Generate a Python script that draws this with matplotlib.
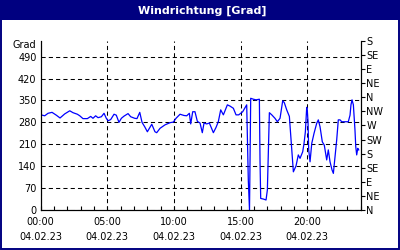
import matplotlib
matplotlib.use("Agg")
import matplotlib.pyplot as plt
from matplotlib.patches import Rectangle

# ---- data ----
hours = [0.02, 0.30, 0.55, 0.85, 1.17, 1.45, 1.80, 2.18, 2.42, 2.75, 2.93, 3.17, 3.50, 3.75,
         3.92, 4.12, 4.30, 4.55, 4.75, 4.92, 5.05, 5.25, 5.50, 5.67, 5.87, 6.05, 6.25, 6.55,
         6.75, 7.05, 7.22, 7.43, 7.60, 7.80, 8.00, 8.33, 8.57, 8.70, 8.95, 9.32, 9.70, 9.95,
         10.15, 10.45, 10.75, 10.95, 11.15, 11.25, 11.40, 11.57, 11.75, 11.95, 12.12, 12.25,
         12.45, 12.65, 12.95, 13.15, 13.32, 13.50, 13.70, 14.00, 14.20, 14.45, 14.65, 14.85,
         15.15, 15.45, 15.57, 15.66, 15.75, 15.95, 16.15, 16.40, 16.45, 16.50, 16.70, 16.90,
         17.00, 17.15, 17.33, 17.57, 17.75, 17.95, 18.15, 18.27, 18.45, 18.65, 18.83, 18.95,
         19.15, 19.32, 19.45, 19.65, 19.75, 19.85, 19.95, 20.00, 20.05, 20.10, 20.20, 20.33,
         20.50, 20.70, 20.82, 20.95, 21.12, 21.27, 21.45, 21.57, 21.70, 21.85, 21.95, 22.07,
         22.20, 22.32, 22.45, 22.58, 22.82, 23.07, 23.20, 23.27, 23.35, 23.45, 23.57, 23.63,
         23.70, 23.78, 23.85]
degrees = [304, 301, 309, 312, 303, 294, 307, 317, 311, 306, 301, 292, 292, 299,
           293, 301, 295, 298, 309, 293, 285, 289, 306, 303, 280, 293, 300, 308,
           298, 293, 292, 312, 280, 266, 250, 274, 250, 247, 261, 272, 279, 281,
           293, 306, 302, 301, 309, 275, 314, 314, 283, 278, 247, 278,
           275, 278, 247, 264, 282, 320, 304, 336, 332, 325, 304, 304,
           314, 336, 96, 0, 357, 354, 352, 354, 154, 37, 35, 32,
           64, 311, 304, 293, 282, 293, 349, 343, 320, 299, 192, 122,
           141, 176, 165, 186, 213, 250, 328, 314, 282, 192, 154, 213,
           245, 277, 288, 266, 218, 207, 160, 192, 154, 128, 117, 170,
           224, 288, 288, 282, 282, 282, 303, 336, 352, 336, 256, 202,
           176, 197, 192]

x_ticks = [0, 5, 10, 15, 20]
x_labels = ["00:00\n04.02.23", "05:00\n04.02.23", "10:00\n04.02.23",
            "15:00\n04.02.23", "20:00\n04.02.23"]
left_ticks = [0, 70, 140, 210, 280, 350, 420, 490]
right_ticks = [0, 45, 90, 135, 180, 225, 270, 315, 360, 405, 450, 495, 540]
right_labels = ["N", "NE", "E", "SE", "S", "SW", "W", "NW", "N", "NE", "E", "SE", "S"]
title = "Windrichtung [Grad]"
unit = "Grad"

NAVY = "#000080"
W, H = 400, 250
fig = plt.figure(figsize=(W / 100, H / 100), dpi=100)
fig.patch.set_facecolor("white")

# title bar and border
fig.add_artist(Rectangle((0, 1 - 20 / H), 1, 20 / H, transform=fig.transFigure,
                         facecolor=NAVY, edgecolor="none"))
fig.add_artist(Rectangle((0.7 / W, 0.7 / H), 1 - 1.4 / W, 1 - 1.4 / H, transform=fig.transFigure,
                         facecolor="none", edgecolor=NAVY, linewidth=1.4))
fig.text(202 / W, 1 - 10.5 / H, title, color="white", fontsize=8, fontweight="bold",
         ha="center", va="center")

ax = fig.add_axes([40.7 / W, 1 - 210 / H, 320 / W, 169 / H])
ax.set_facecolor("white")
ax.plot(hours, degrees, color="#0000ff", linewidth=0.9)

ax.set_xlim(0, 24)
ax.set_ylim(0, 540)
ax.set_xticks(x_ticks)
ax.set_xticklabels(x_labels, fontsize=7, linespacing=1.6)
ax.set_xticks(range(0, 25), minor=True)
ax.tick_params(axis="x", which="both", direction="in", length=3, width=0.8, pad=5)
ax.set_yticks(left_ticks)
ax.set_yticklabels([str(v) for v in left_ticks], fontsize=7)
ax.tick_params(axis="y", length=0, pad=3)

ax.grid(True, which="major", color="black", linestyle=(0, (4, 3)), linewidth=0.75)
for s in ["left", "bottom", "right"]:
    ax.spines[s].set_linewidth(0.8)
ax.spines["top"].set_visible(False)

ax2 = ax.twinx()
ax2.set_ylim(0, 540)
ax2.set_yticks(right_ticks)
ax2.set_yticklabels(right_labels, fontsize=7)
ax2.tick_params(axis="y", direction="out", length=3, width=0.8, pad=1)
ax2.spines["top"].set_visible(False)
ax2.spines["right"].set_linewidth(0.8)

fig.text(36 / W, 1 - 45 / H, unit, fontsize=7, ha="right", va="center")

fig.savefig("out.png", dpi=100, facecolor=fig.get_facecolor())
